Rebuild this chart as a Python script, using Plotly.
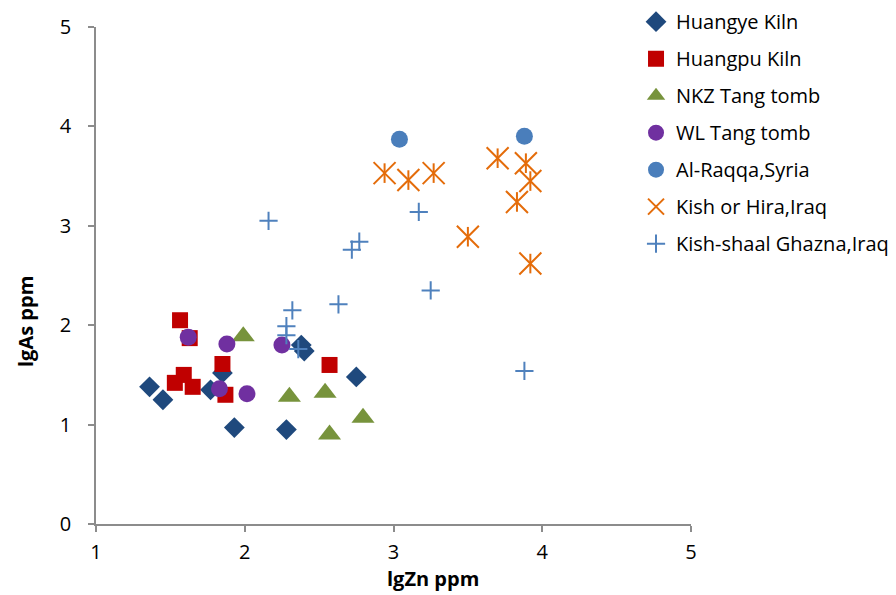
import plotly.graph_objects as go

# lgZn / lgAs values per site
huangye_x = [1.36, 1.45, 1.77, 1.85, 1.93, 2.28, 2.38, 2.40, 2.75]
huangye_y = [1.38, 1.25, 1.35, 1.52, 0.97, 0.95, 1.80, 1.74, 1.48]

huangpu_x = [1.565, 1.63, 1.53, 1.59, 1.65, 1.85, 1.87, 2.57]
huangpu_y = [2.05, 1.87, 1.42, 1.50, 1.38, 1.61, 1.30, 1.60]

nkz_x = [1.99, 2.30, 2.54, 2.795, 2.57]
nkz_y = [1.89, 1.28, 1.32, 1.07, 0.90]

wl_x = [1.62, 1.88, 1.83, 2.015, 2.25]
wl_y = [1.88, 1.81, 1.36, 1.31, 1.80]

raqqa_x = [3.04, 3.88]
raqqa_y = [3.87, 3.90]

kish_x = [2.94, 3.10, 3.27, 3.70, 3.89, 3.92, 3.83, 3.50, 3.92]
kish_y = [3.53, 3.46, 3.53, 3.68, 3.63, 3.45, 3.24, 2.89, 2.62]

ghazna_x = [2.16, 2.77, 2.72, 2.63, 2.32, 2.28, 2.28, 2.36, 3.17, 3.25, 3.88]
ghazna_y = [3.05, 2.84, 2.76, 2.21, 2.15, 1.99, 1.90, 1.76, 3.14, 2.35, 1.54]

x_ticks = [1, 2, 3, 4, 5]
y_ticks = [0, 1, 2, 3, 4, 5]

FONT = "Open Sans"
AXIS_GREY = "#8c8c8c"

fig = go.Figure()


def add_series(name, xs, ys, symbol, color, size, line_w=0, show=True):
    fig.add_trace(go.Scatter(
        x=xs, y=ys, mode="markers", name=name, legendgroup=name,
        showlegend=show,
        marker=dict(symbol=symbol, size=size, color=color,
                    line=dict(color=color, width=line_w)),
    ))


add_series("Huangye Kiln", huangye_x, huangye_y, "diamond", "#1f497d", 16)
add_series("Huangpu Kiln", huangpu_x, huangpu_y, "square", "#c00000", 16)
add_series("NKZ Tang tomb", nkz_x, nkz_y, "triangle-up", "#77933c", 20)
add_series("WL Tang tomb", wl_x, wl_y, "circle", "#7030a0", 17)
add_series("Al-Raqqa,Syria", raqqa_x, raqqa_y, "circle", "#4a7ebb", 17)
# star marker: diagonal cross plus a vertical stroke
add_series("Kish or Hira,Iraq", kish_x, kish_y, "x-thin-open", "#e46c0a", 22, 2)
add_series("Kish or Hira,Iraq", kish_x, kish_y, "line-ns-open", "#e46c0a", 14, 2, show=False)
add_series("Kish-shaal Ghazna,Iraq", ghazna_x, ghazna_y, "cross-thin-open", "#4f81bd", 13, 2)

fig.update_layout(
    width=896, height=595,
    margin=dict(l=96, r=205, t=27, b=71, autoexpand=False),
    paper_bgcolor="white", plot_bgcolor="white",
    font=dict(family=FONT, size=20, color="#000000"),
    legend=dict(
        x=0.9076, xanchor="left", y=1.05, yanchor="top",
        font=dict(family=FONT, size=20, color="#000000"),
        tracegroupgap=8, bgcolor="rgba(0,0,0,0)",
    ),
    xaxis=dict(
        range=[1, 5], tickvals=x_ticks, showgrid=False, zeroline=False,
        showline=True, linecolor=AXIS_GREY, linewidth=1.5,
        ticks="outside", ticklen=6, tickcolor=AXIS_GREY, tickwidth=1.5,
        ticklabelstandoff=3, tickfont=dict(family=FONT, size=20),
    ),
    yaxis=dict(
        range=[0, 5], tickvals=y_ticks, showgrid=False, zeroline=False,
        showline=True, linecolor=AXIS_GREY, linewidth=1.5,
        ticks="outside", ticklen=6, tickcolor=AXIS_GREY, tickwidth=1.5,
        ticklabelstandoff=13, tickfont=dict(family=FONT, size=20),
    ),
    annotations=[
        dict(text="<b>lgZn ppm</b>", xref="paper", yref="paper",
             x=(433 - 96) / 595, y=-(578 - 524) / 497,
             xanchor="center", yanchor="middle", showarrow=False,
             font=dict(family=FONT, size=20)),
        dict(text="<b>lgAs ppm</b>", xref="paper", yref="paper",
             x=-(96 - 25) / 595, y=(524 - 322) / 497, textangle=-90,
             xanchor="center", yanchor="middle", showarrow=False,
             font=dict(family=FONT, size=20)),
    ],
)

fig.write_html("out.html")
